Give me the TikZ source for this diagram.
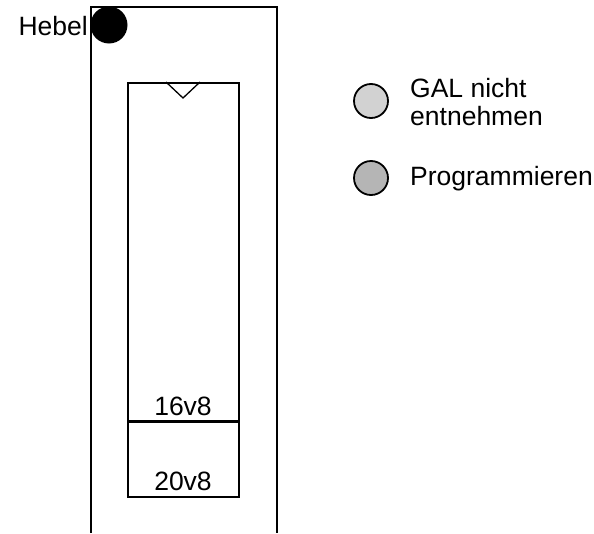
\documentclass[tikz,border=0pt]{standalone}
\usepackage{fontspec}
\setmainfont{Liberation Sans}
\begin{document}
\begin{tikzpicture}[x=1pt,y=-1pt,
  lbl/.style={font=\fontsize{26.5}{29}\selectfont, inner sep=0pt},
  ledA/.style={circle, draw, line width=1.8pt, fill=gray!35, minimum size=34pt, inner sep=0pt},
  ledB/.style={circle, draw, line width=1.8pt, fill=gray!58, minimum size=34pt, inner sep=0pt}]
\useasboundingbox (0,0) rectangle (594,533);
% outer frame, open at the bottom
\coordinate (oBL) at (91,533);
\coordinate (oBR) at (277,533);
\draw[line width=2pt] (oBL) -- (91,7) -- (277,7) -- (oBR);
% socket
\node[draw, line width=1.5pt, minimum width=111pt, minimum height=414pt, inner sep=0pt, anchor=north west] (sock) at (127,82) {};
\coordinate (dL) at (127,421);
\coordinate (dR) at (238,421);
\draw[line width=3pt] (dL) -- (dR);
% notch
\coordinate (nL) at (166,82);
\coordinate (nR) at (200,82);
\coordinate (nA) at (183,98);
\draw[line width=1.3pt] (nL) -- (nA) -- (nR);
% labels
\node[lbl] (t16) at (183,406) {16v8};
\node[lbl] (t20) at (183,481) {20v8};
% lever
\node[circle, fill=black, minimum size=37pt, inner sep=0pt] (lever) at (109,25) {};
\node[lbl, anchor=east] (hebel) at (88,26) {Hebel};
% indicators
\node[ledA] (led1) at (371,101) {};
\node[ledB] (led2) at (371,178) {};
\node[lbl, anchor=west, align=left, font=\fontsize{26.5}{28}\selectfont] (txt1) at (410,102) {GAL nicht\\entnehmen};
\node[lbl, anchor=west] (txt2) at (410,179) {Programmieren};
\end{tikzpicture}
\end{document}
